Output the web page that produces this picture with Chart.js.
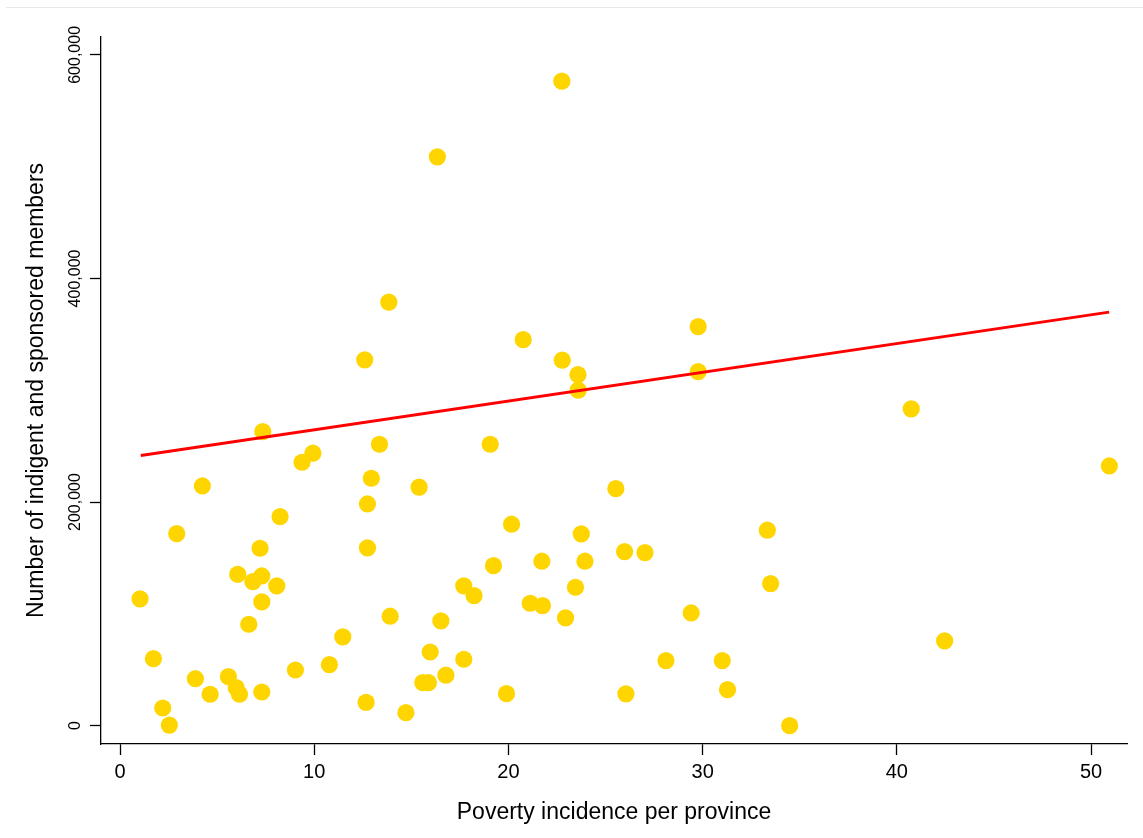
<!DOCTYPE html>
<html>
<head>
<meta charset="utf-8">
<script src="https://cdn.jsdelivr.net/npm/chart.js@4.4.1/dist/chart.umd.min.js"></script>
<style>
html,body{margin:0;padding:0;background:#fff;}
#wrap{position:relative;width:1143px;height:838px;overflow:hidden;}
#rule{position:absolute;left:6px;right:0;top:7px;height:1px;background:#e6e9ea;}
canvas{position:absolute;left:0;top:0;}
</style>
</head>
<body>
<div id="wrap"><div id="rule"></div><canvas id="c" width="1143" height="838"></canvas></div>
<script>
// Poverty incidence per province (x)
const povertyIncidence = [
  1.03, 1.72, 2.20, 2.54, 2.92, 3.88, 4.24, 4.64, 5.58, 5.98,
  6.06, 6.15, 6.63, 6.84, 7.21, 7.30, 7.30, 7.30, 7.35, 8.07,
  8.24, 9.03, 9.37, 9.93, 10.78, 11.47, 12.60, 12.67, 12.74, 12.74,
  12.94, 13.36, 13.84, 13.91, 14.72, 15.40, 15.59, 15.88, 15.97, 16.34,
  16.52, 16.78, 17.70, 17.70, 18.23, 19.06, 19.23, 19.90, 20.16, 20.76,
  21.12, 21.75, 21.72, 22.75, 22.77, 22.94, 23.45, 23.58, 23.59, 23.75,
  23.94, 25.53, 25.98, 26.05, 27.03, 28.11, 29.41, 29.77, 29.77, 31.01,
  31.28, 33.33, 33.50, 34.48, 40.74, 42.46, 50.94
];
// Number of indigent and sponsored members (y)
const members = [
  113400, 59900, 15800, 500, 171800, 42000, 214400, 28100, 43800, 34000,
  135400, 28100, 90700, 128800, 158700, 133900, 110700, 30100, 263000, 125000,
  187000, 49800, 235600, 243700, 54600, 79400, 327200, 20900, 198300, 159000,
  221300, 251700, 378800, 97900, 11600, 213300, 38500, 38500, 65900, 508800,
  93700, 45200, 59400, 125000, 116300, 251700, 143100, 28600, 180200, 345300,
  109500, 107400, 147100, 576500, 326900, 96400, 123800, 314000, 300100, 171500,
  147100, 212000, 155700, 28400, 154800, 58200, 100800, 357000, 316700, 58200,
  32200, 174900, 127100, 0, 283300, 75800, 232300
];
// Fitted regression line end points
const fitX = [1.07, 50.93];
const fitY = [241600, 369900];
// Tick values
const xTicks = [0, 10, 20, 30, 40, 50];
const yTicks = [0, 200000, 400000, 600000];

Chart.defaults.font.family = "'Liberation Sans', Arial, Helvetica, sans-serif";
Chart.defaults.color = '#000';

const scatterPts = povertyIncidence.map((x, i) => ({x: x, y: members[i]}));
const fitPts = fitX.map((x, i) => ({x: x, y: fitY[i]}));

new Chart(document.getElementById('c'), {
  type: 'scatter',
  data: {
    datasets: [
      {
        label: 'Fitted values',
        data: fitPts,
        showLine: true,
        borderColor: '#FF0000',
        borderWidth: 3,
        pointRadius: 0,
        order: 0
      },
      {
        label: 'Members',
        data: scatterPts,
        backgroundColor: '#FFD500',
        borderWidth: 0,
        pointRadius: 8.6,
        pointHoverRadius: 8.6,
        order: 1
      }
    ]
  },
  options: {
    responsive: false,
    animation: false,
    events: [],
    layout: {padding: {left: 0, right: 16, top: 37, bottom: 0}},
    plugins: {legend: {display: false}, tooltip: {enabled: false}},
    scales: {
      x: {
        type: 'linear',
        min: -0.98,
        max: 51.85,
        afterBuildTicks: s => { s.ticks = xTicks.map(v => ({value: v})); },
        afterFit: s => { s.height = 94; },
        border: {display: true, color: '#000', width: 1.3},
        grid: {display: true, drawOnChartArea: false, drawTicks: true, tickLength: 11, tickColor: '#000', tickWidth: 1.3},
        ticks: {padding: 5, maxRotation: 0, color: '#000', font: {size: 20}, callback: v => String(v)},
        title: {display: true, text: 'Poverty incidence per province', color: '#000', font: {size: 23, lineHeight: 1.2}, padding: {top: 0, bottom: 12}}
      },
      y: {
        type: 'linear',
        min: -16400,
        max: 616000,
        afterBuildTicks: s => { s.ticks = yTicks.map(v => ({value: v})); },
        afterFit: s => { s.width = 101; },
        border: {display: true, color: '#000', width: 1.3},
        grid: {display: true, drawOnChartArea: false, drawTicks: true, tickLength: 11, tickColor: '#000', tickWidth: 1.3},
        ticks: {minRotation: 90, maxRotation: 90, crossAlign: 'center', padding: -15, color: '#000', font: {size: 16}, callback: v => v.toLocaleString('en-US')},
        title: {display: true, text: 'Number of indigent and sponsored members', color: '#000', font: {size: 23, lineHeight: 1.2}, padding: {top: 23, bottom: 0}}
      }
    }
  }
});
</script>
</body>
</html>
